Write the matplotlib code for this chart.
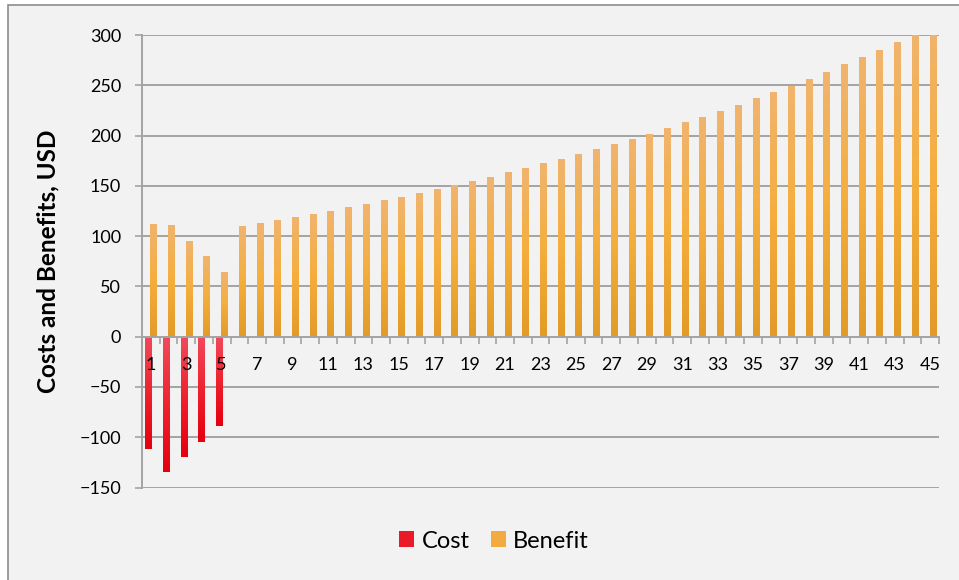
import numpy as np
import matplotlib
matplotlib.use("Agg")
import matplotlib.pyplot as plt
from matplotlib.colors import LinearSegmentedColormap
from matplotlib.patches import Rectangle

plt.rcParams["font.family"] = ["Lato", "DejaVu Sans"]

# Jaren 1..45, kosten alleen in de eerste vijf jaar
years = np.arange(1, 46)
cost = [-112, -135, -120, -105, -89]
benefit = [112, 110.5, 95, 80, 64, 110, 112.5, 115.5, 118.5, 121.5,
           124.5, 128.5, 131.5, 135.5, 138.5, 142.5, 146.5, 150.5, 154.5, 158.5,
           163.5, 167.5, 172.5, 176.5, 181.5, 186.5, 191.5, 196.5, 201.5, 207,
           213, 218, 224, 230, 237, 243, 249.5, 256, 263, 271,
           278, 285, 293, 301, 309]
tick_years = np.arange(1, 46, 2)
y_ticks = np.arange(-150, 301, 50)

bg = "#f2f2f2"
grid_col = "#a3a3a3"

fig = plt.figure(figsize=(9.59, 5.8), dpi=100, facecolor="white")
# achtergrond van het diagramgebied met rand links en boven
fig.patches.append(Rectangle((8 / 959, -0.1), 1.2, 1 - 5 / 580 + 0.1,
                             transform=fig.transFigure, facecolor=bg,
                             edgecolor="#8c8c8c", linewidth=1.2, zorder=-1))

ax = fig.add_axes([142 / 959, 92.5 / 580, 797 / 959, 452.5 / 580])
ax.set_zorder(1)
ax.set_facecolor(bg)
ax.set_axisbelow(False)  # aslabels boven de staven

w = 0.34
off = 0.14
cost_bars = ax.bar(years[:len(cost)] - off, cost, width=w, color="#ea1a28",
                   label="Cost", zorder=2)
ben_bars = ax.bar(years + off, benefit, width=w, color="#f3aa40",
                  label="Benefit", zorder=2)

# verloop per staaf
red_map = LinearSegmentedColormap.from_list("r", ["#e5000e", "#ee2230", "#f04a5b"])
org_map = LinearSegmentedColormap.from_list("o", ["#e29a28", "#f5ae3d", "#f0b46e"])
grad = np.linspace(0, 1, 128).reshape(-1, 1)
for bars, cmap in ((cost_bars, red_map), (ben_bars, org_map)):
    for p in bars:
        x0, y0 = p.get_x(), p.get_y()
        x1, y1 = x0 + p.get_width(), y0 + p.get_height()
        lo, hi = min(y0, y1), max(y0, y1)
        ax.imshow(grad, cmap=cmap, extent=(x0, x1, lo, hi), origin="lower",
                  aspect="auto", zorder=2.1, interpolation="bilinear")

for yv in y_ticks:
    if yv != 0:
        ax.axhline(yv, color=grid_col, linewidth=1.4, zorder=0.5)

ax.set_xlim(0.5, 45.5)
ax.set_ylim(-150, 300)

for s in ("top", "right"):
    ax.spines[s].set_visible(False)
ax.spines["bottom"].set_position(("data", 0))
for s in ("left", "bottom"):
    ax.spines[s].set_color(grid_col)
    ax.spines[s].set_linewidth(1.4)

ax.set_xticks(tick_years)
ax.set_xticklabels([str(t) for t in tick_years])
ax.set_xticks(np.arange(0.5, 46, 1), minor=True)
ax.tick_params(axis="x", which="major", length=0, pad=15, labelsize=13,
               colors="black")
ax.tick_params(axis="x", which="minor", length=5, width=1.2, color=grid_col)
ax.set_yticks(y_ticks)
ax.tick_params(axis="y", length=5, width=1.2, color=grid_col, pad=10,
               labelsize=13, labelcolor="black")

fig.text(48 / 959, 1 - 261 / 580, "Costs and Benefits, USD", rotation=90,
         ha="center", va="center", fontsize=17.5, fontweight="bold")

fig.legend(handles=[cost_bars, ben_bars], labels=["Cost", "Benefit"],
           loc="center", bbox_to_anchor=(494 / 959, 1 - 541 / 580), ncol=2,
           frameon=False, fontsize=17, handlelength=0.65, handleheight=0.65,
           handletextpad=0.3, columnspacing=0.9)

fig.savefig("out.png", dpi=100, facecolor=fig.get_facecolor())
